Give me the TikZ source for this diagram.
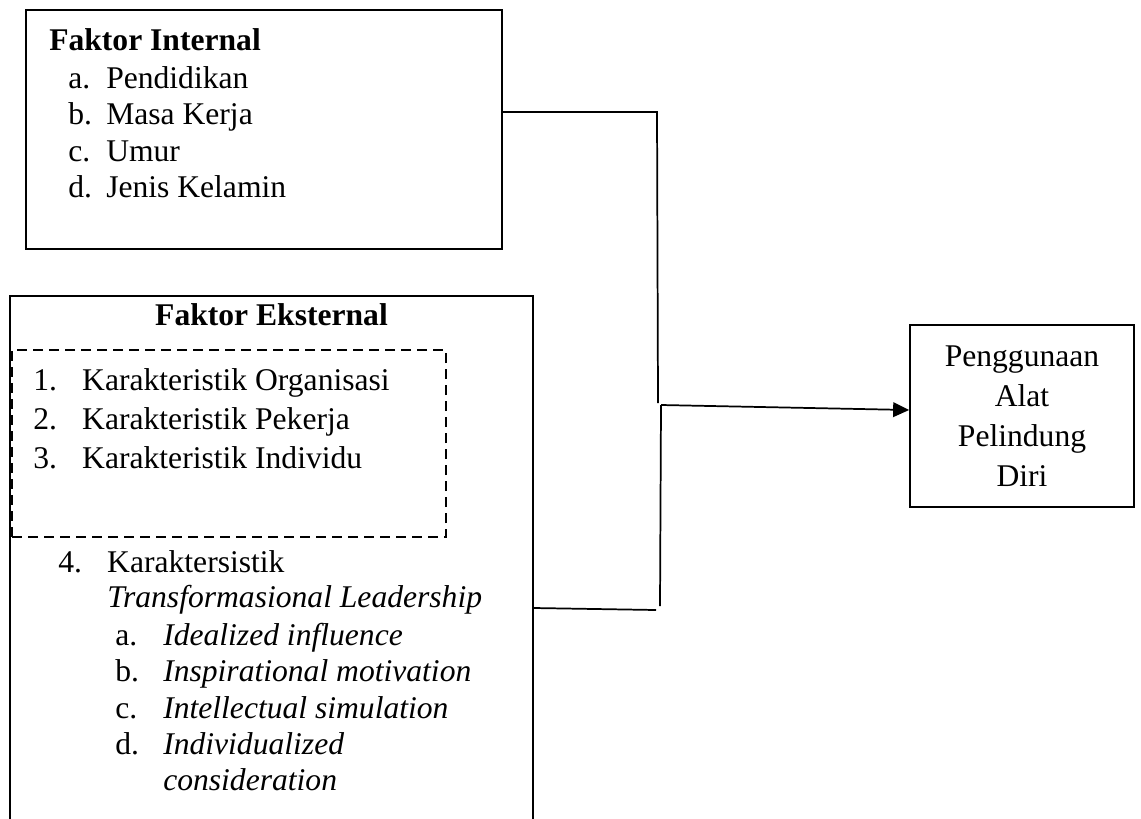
\documentclass[tikz,border=0pt]{standalone}
\usepackage{fontspec}
\setmainfont{Liberation Serif}
\usetikzlibrary{arrows.meta}

\newcommand{\lbl}[2]{\makebox[#1][l]{#2}}

\begin{document}
\begin{tikzpicture}[x=0.75pt,y=0.75pt,yscale=-1,xscale=1,
  font=\fontsize{23.7}{30}\selectfont,
  box/.style={draw,line width=1.3pt,inner sep=0pt},
  txt/.style={anchor=base west,inner sep=0pt},
  link/.style={line width=1.3pt}]
%set diagram size to 1141 x 818
\useasboundingbox (0,0) rectangle (1141,818);
\clip (0,0) rectangle (1141,818);

%Shape: Rectangle [internal]
\node [box,minimum width=357pt,minimum height=179.25pt] (int) at (264,129.5) {};
%Shape: Rectangle [external, runs off the page]
\node [box,minimum width=392.25pt,minimum height=468pt] (ext) at (271.5,608) {};
%Shape: Rectangle [dashed group]
\node [box,line width=1.1pt,dash pattern={on 7.5pt off 4.5pt},minimum width=325.5pt,minimum height=140.25pt] (grp) at (229,443.5) {};
%Shape: Rectangle [output]
\node [box,align=center,minimum width=168pt,minimum height=136.5pt] (out) at (1022,416) {Penggunaan\\Alat\\Pelindung\\Diri};

%Straight Lines [joints]
\coordinate (ja) at (657,112);
\coordinate (jb) at (658,403);
\coordinate (jc) at (661,405);
\coordinate (jd) at (660,606);
\coordinate (je) at (656,610);
\draw [link] (int.east |- ja) -- (ja) -- (jb);
\draw [link] (jc) -- (jd);
\draw [link] (ext.east) -- (je);
\draw [link,-{Triangle[length=12pt,width=11pt]}] (jc) -- ([yshift=-4.5pt]out.west);

% Text Node
\node [txt] (fi) at (49,50) {\bfseries Faktor Internal};
% Text Node
\node [txt] (ia) at (68,88) {\lbl{28.5pt}{a.}Pendidikan};
% Text Node
\node [txt] (ib) at (68,124.5) {\lbl{28.5pt}{b.}Masa Kerja};
% Text Node
\node [txt] (ic) at (68,161) {\lbl{28.5pt}{c.}Umur};
% Text Node
\node [txt] (id) at (68,197.5) {\lbl{28.5pt}{d.}Jenis Kelamin};

% Text Node
\node [anchor=base,inner sep=0pt] (fe) at (271.5,325) {\bfseries Faktor Eksternal};
% Text Node
\node [txt] (e1) at (33,390) {\lbl{36.75pt}{1.}Karakteristik Organisasi};
% Text Node
\node [txt] (e2) at (33,429) {\lbl{36.75pt}{2.}Karakteristik Pekerja};
% Text Node
\node [txt] (e3) at (33,468) {\lbl{36.75pt}{3.}Karakteristik Individu};
% Text Node
\node [txt] (e4) at (58,572) {\lbl{36.75pt}{4.}Karaktersistik};
% Text Node
\node [txt] (e4t) at (107,607) {\itshape Transformasional Leadership};
% Text Node
\node [txt] (ea) at (115,645) {\lbl{36pt}{a.}\textit{Idealized influence}};
% Text Node
\node [txt] (eb) at (115,681.5) {\lbl{36pt}{b.}\textit{Inspirational motivation}};
% Text Node
\node [txt] (ec) at (115,718) {\lbl{36pt}{c.}\textit{Intellectual simulation}};
% Text Node
\node [txt] (ed) at (115,754) {\lbl{36pt}{d.}\textit{Individualized}};
% Text Node
\node [txt] (ed2) at (163,790) {\itshape consideration};

\end{tikzpicture}
\end{document}
